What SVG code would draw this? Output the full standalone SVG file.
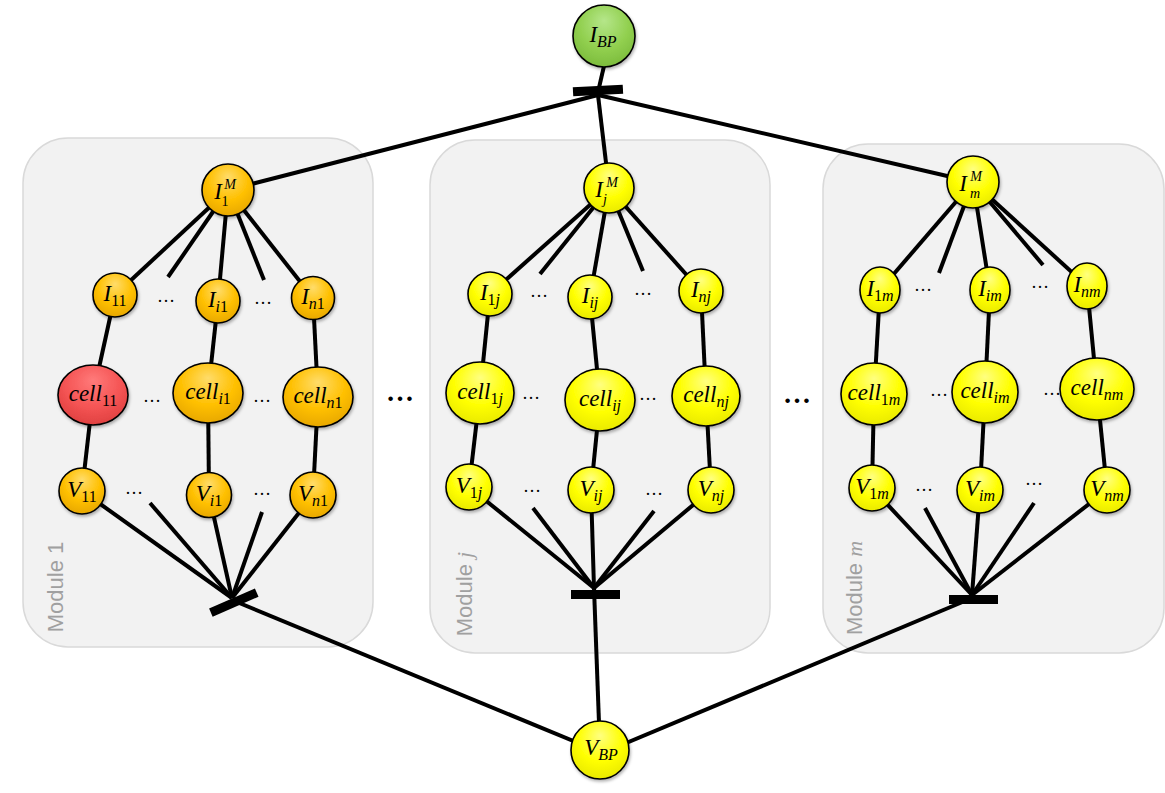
<svg xmlns="http://www.w3.org/2000/svg" width="1165" height="793" viewBox="0 0 1165 793">
<defs>
<radialGradient id="gOr" cx="0.5" cy="0.35" r="0.65" fx="0.5" fy="0.25"><stop offset="0" stop-color="#ffdc6a"/><stop offset="0.6" stop-color="#ffc000"/><stop offset="1" stop-color="#e8a800"/></radialGradient>
<radialGradient id="gYe" cx="0.5" cy="0.35" r="0.65" fx="0.5" fy="0.25"><stop offset="0" stop-color="#ffff80"/><stop offset="0.6" stop-color="#ffff00"/><stop offset="1" stop-color="#eaea00"/></radialGradient>
<radialGradient id="gRe" cx="0.5" cy="0.35" r="0.65" fx="0.5" fy="0.25"><stop offset="0" stop-color="#ff7a7a"/><stop offset="0.6" stop-color="#f55555"/><stop offset="1" stop-color="#e04040"/></radialGradient>
<radialGradient id="gGr" cx="0.5" cy="0.35" r="0.65" fx="0.5" fy="0.25"><stop offset="0" stop-color="#b5e68a"/><stop offset="0.6" stop-color="#92d050"/><stop offset="1" stop-color="#7cbc3c"/></radialGradient>
<filter id="sh" x="-20%" y="-20%" width="150%" height="150%"><feDropShadow dx="1" dy="2" stdDeviation="1.5" flood-color="#000" flood-opacity="0.3"/></filter>
</defs>
<style>
.box{fill:#f2f2f2;stroke:#d9d9d9;stroke-width:1.5}
.c{stroke:#000;stroke-width:4;fill:none}
.bar{fill:#000}
.n{stroke:#000;stroke-width:1.6;filter:url(#sh)}
.or{fill:url(#gOr)}.ye{fill:url(#gYe)}.re{fill:url(#gRe)}.gr{fill:url(#gGr)}
.l{font-family:"Liberation Serif","DejaVu Serif",serif;font-style:italic;font-size:23px;fill:#000;text-anchor:middle}
.s{font-size:16px}
.t{font-size:14px}
.u{font-style:normal}
.d{font-family:"Liberation Serif",serif;font-size:18px;fill:#000;text-anchor:middle}
.bd{font-family:"Liberation Serif",serif;font-size:28px;font-weight:bold;fill:#000;text-anchor:middle}
.mod{font-family:"Liberation Sans",Arial,sans-serif;font-size:22px;fill:#a0a0a0;text-anchor:middle}
.mi{font-family:"Liberation Serif",serif;font-style:italic}
</style>
<rect width="1165" height="793" fill="#fff"/>
<g id="modules">
<g id="module1"><rect class="box" x="23" y="138" width="350" height="509" rx="45"/><text class="mod" transform="translate(63,587) rotate(-90)">Module 1</text></g>
<g id="modulej"><rect class="box" x="430" y="140" width="340" height="513" rx="45"/><text class="mod" transform="translate(472,594) rotate(-90)">Module <tspan class="mi">j</tspan></text></g>
<g id="modulem"><rect class="box" x="823" y="144" width="341" height="509" rx="45"/><text class="mod" transform="translate(862,588) rotate(-90)">Module <tspan class="mi">m</tspan></text></g>
</g>
<g id="connectors">
<line class="c" x1="604" y1="66" x2="598" y2="92"/>
<line class="c" x1="598" y1="95" x2="228" y2="190"/>
<line class="c" x1="598" y1="95" x2="609" y2="188"/>
<line class="c" x1="598" y1="95" x2="973" y2="182"/>
<rect class="bar" x="573" y="86" width="50" height="9" transform="rotate(-3 598 91)"/>
<line class="c" x1="228" y1="190" x2="115" y2="295"/>
<line class="c" x1="228" y1="190" x2="168" y2="277"/>
<line class="c" x1="228" y1="190" x2="218" y2="301"/>
<line class="c" x1="228" y1="190" x2="264" y2="280"/>
<line class="c" x1="228" y1="190" x2="313" y2="298"/>
<line class="c" x1="115" y1="295" x2="93" y2="395"/>
<line class="c" x1="218" y1="301" x2="208" y2="393"/>
<line class="c" x1="313" y1="298" x2="318" y2="397"/>
<line class="c" x1="93" y1="395" x2="82" y2="491"/>
<line class="c" x1="208" y1="393" x2="209" y2="495"/>
<line class="c" x1="318" y1="397" x2="313" y2="495"/>
<line class="c" x1="82" y1="491" x2="232" y2="598"/>
<line class="c" x1="150" y1="503" x2="232" y2="598"/>
<line class="c" x1="209" y1="495" x2="232" y2="598"/>
<line class="c" x1="262" y1="512" x2="232" y2="598"/>
<line class="c" x1="313" y1="495" x2="232" y2="598"/>
<line class="c" x1="232" y1="600" x2="600" y2="752"/>
<rect class="bar" x="209" y="598" width="50" height="9" transform="rotate(-23.5 234 603)"/>
<line class="c" x1="609" y1="188" x2="490" y2="294"/>
<line class="c" x1="609" y1="188" x2="540" y2="274"/>
<line class="c" x1="609" y1="188" x2="590" y2="297"/>
<line class="c" x1="609" y1="188" x2="643" y2="271"/>
<line class="c" x1="609" y1="188" x2="701" y2="291"/>
<line class="c" x1="490" y1="294" x2="480" y2="393"/>
<line class="c" x1="590" y1="297" x2="600" y2="400"/>
<line class="c" x1="701" y1="291" x2="706" y2="396"/>
<line class="c" x1="480" y1="393" x2="469" y2="487"/>
<line class="c" x1="600" y1="400" x2="591" y2="490"/>
<line class="c" x1="706" y1="396" x2="711" y2="490"/>
<line class="c" x1="469" y1="487" x2="594" y2="588"/>
<line class="c" x1="533" y1="508" x2="594" y2="588"/>
<line class="c" x1="591" y1="490" x2="594" y2="588"/>
<line class="c" x1="654" y1="511" x2="594" y2="588"/>
<line class="c" x1="711" y1="490" x2="594" y2="588"/>
<line class="c" x1="594" y1="588" x2="600" y2="750"/>
<rect class="bar" x="571" y="590" width="49" height="9"/>
<line class="c" x1="973" y1="182" x2="880" y2="290"/>
<line class="c" x1="973" y1="182" x2="939" y2="273"/>
<line class="c" x1="973" y1="182" x2="990" y2="290"/>
<line class="c" x1="973" y1="182" x2="1043" y2="265"/>
<line class="c" x1="973" y1="182" x2="1087" y2="286"/>
<line class="c" x1="880" y1="290" x2="874" y2="395"/>
<line class="c" x1="990" y1="290" x2="985" y2="393"/>
<line class="c" x1="1087" y1="286" x2="1097" y2="390"/>
<line class="c" x1="874" y1="395" x2="872" y2="488"/>
<line class="c" x1="985" y1="393" x2="980" y2="490"/>
<line class="c" x1="1097" y1="390" x2="1107" y2="490"/>
<line class="c" x1="872" y1="488" x2="972" y2="595"/>
<line class="c" x1="925" y1="508" x2="972" y2="595"/>
<line class="c" x1="980" y1="490" x2="972" y2="595"/>
<line class="c" x1="1034" y1="503" x2="972" y2="595"/>
<line class="c" x1="1107" y1="490" x2="972" y2="595"/>
<line class="c" x1="972" y1="598" x2="600" y2="754"/>
<rect class="bar" x="949" y="595" width="49" height="9"/>
</g>
<g id="dots">
<text class="d" x="166" y="302">…</text><text class="d" x="263" y="304">…</text>
<text class="d" x="152" y="402">…</text><text class="d" x="262" y="402">…</text>
<text class="d" x="134" y="494">…</text><text class="d" x="262" y="495">…</text>
<text class="d" x="539" y="297">…</text><text class="d" x="643" y="295">…</text>
<text class="d" x="531" y="399">…</text><text class="d" x="648" y="400">…</text>
<text class="d" x="532" y="492">…</text><text class="d" x="654" y="495">…</text>
<text class="d" x="923" y="291">…</text><text class="d" x="1040" y="288">…</text>
<text class="d" x="939" y="396">…</text><text class="d" x="1052" y="395">…</text>
<text class="d" x="924" y="491">…</text><text class="d" x="1034" y="485">…</text>
<text class="bd" x="400" y="401">…</text><text class="bd" x="797" y="403">…</text>
</g>
<g id="IBP"><circle class="n gr" cx="604" cy="36" r="31"/><text class="l" x="603" y="42">I<tspan class="s" dy="5">BP</tspan></text></g>
<g id="VBP"><circle class="n ye" cx="600" cy="750" r="29"/><text class="l" x="601" y="755">V<tspan class="s" dy="5">BP</tspan></text></g>
<g id="I1M"><circle class="n or" cx="228" cy="190" r="26"/><text class="l" x="218" y="199">I</text><text class="l t" x="230" y="189">M</text><text class="l t u" x="225" y="206">1</text></g>
<g id="I11"><circle class="n or" cx="115" cy="295" r="22"/><text class="l" x="115" y="301">I<tspan class="s u" dy="5">11</tspan></text></g>
<g id="Ii1"><circle class="n or" cx="218" cy="301" r="22"/><text class="l" x="218" y="307">I<tspan class="s" dy="5">i<tspan class="u">1</tspan></tspan></text></g>
<g id="In1"><circle class="n or" cx="313" cy="298" r="21.5"/><text class="l" x="313" y="304">I<tspan class="s" dy="5">n<tspan class="u">1</tspan></tspan></text></g>
<g id="cell11"><ellipse class="n re" cx="93" cy="395" rx="35" ry="30"/><text class="l" x="93" y="401">cell<tspan class="s u" dy="5">11</tspan></text></g>
<g id="celli1"><ellipse class="n or" cx="208" cy="393" rx="35" ry="30"/><text class="l" x="208" y="399">cell<tspan class="s" dy="5">i<tspan class="u">1</tspan></tspan></text></g>
<g id="celln1"><ellipse class="n or" cx="318" cy="397" rx="35" ry="30"/><text class="l" x="318" y="403">cell<tspan class="s" dy="5">n<tspan class="u">1</tspan></tspan></text></g>
<g id="V11"><circle class="n or" cx="82" cy="491" r="23"/><text class="l" x="82" y="497">V<tspan class="s u" dy="5">11</tspan></text></g>
<g id="Vi1"><circle class="n or" cx="209" cy="495" r="22.5"/><text class="l" x="209" y="501">V<tspan class="s" dy="5">i<tspan class="u">1</tspan></tspan></text></g>
<g id="Vn1"><circle class="n or" cx="313" cy="495" r="23"/><text class="l" x="313" y="501">V<tspan class="s" dy="5">n<tspan class="u">1</tspan></tspan></text></g>
<g id="IjM"><circle class="n ye" cx="609" cy="188" r="25"/><text class="l" x="599" y="197">I</text><text class="l t" x="612" y="187">M</text><text class="l t" x="605" y="204">j</text></g>
<g id="I1j"><circle class="n ye" cx="490" cy="294" r="22"/><text class="l" x="490" y="300">I<tspan class="s" dy="5"><tspan class="u">1</tspan>j</tspan></text></g>
<g id="Iij"><circle class="n ye" cx="590" cy="297" r="22"/><text class="l" x="590" y="303">I<tspan class="s" dy="5">ij</tspan></text></g>
<g id="Inj"><circle class="n ye" cx="701" cy="291" r="22"/><text class="l" x="701" y="297">I<tspan class="s" dy="5">nj</tspan></text></g>
<g id="cell1j"><ellipse class="n ye" cx="480" cy="393" rx="34" ry="31"/><text class="l" x="480" y="399">cell<tspan class="s" dy="5"><tspan class="u">1</tspan>j</tspan></text></g>
<g id="cellij"><ellipse class="n ye" cx="600" cy="400" rx="35" ry="31"/><text class="l" x="600" y="406">cell<tspan class="s" dy="5">ij</tspan></text></g>
<g id="cellnj"><ellipse class="n ye" cx="706" cy="396" rx="34" ry="30"/><text class="l" x="706" y="402">cell<tspan class="s" dy="5">nj</tspan></text></g>
<g id="V1j"><circle class="n ye" cx="469" cy="487" r="23"/><text class="l" x="469" y="493">V<tspan class="s" dy="5"><tspan class="u">1</tspan>j</tspan></text></g>
<g id="Vij"><circle class="n ye" cx="591" cy="490" r="23"/><text class="l" x="591" y="496">V<tspan class="s" dy="5">ij</tspan></text></g>
<g id="Vnj"><circle class="n ye" cx="711" cy="490" r="23"/><text class="l" x="711" y="496">V<tspan class="s" dy="5">nj</tspan></text></g>
<g id="ImM"><circle class="n ye" cx="973" cy="182" r="26"/><text class="l" x="963" y="191">I</text><text class="l t" x="976" y="181">M</text><text class="l t" x="975" y="198">m</text></g>
<g id="I1m"><ellipse class="n ye" cx="880" cy="290" rx="20" ry="23"/><text class="l" x="880" y="296">I<tspan class="s" dy="5"><tspan class="u">1</tspan>m</tspan></text></g>
<g id="Iim"><ellipse class="n ye" cx="990" cy="290" rx="20" ry="23"/><text class="l" x="990" y="296">I<tspan class="s" dy="5">im</tspan></text></g>
<g id="Inm"><ellipse class="n ye" cx="1087" cy="286" rx="20" ry="23"/><text class="l" x="1087" y="292">I<tspan class="s" dy="5">nm</tspan></text></g>
<g id="cell1m"><ellipse class="n ye" cx="874" cy="394" rx="33" ry="31"/><text class="l" x="874" y="400">cell<tspan class="s" dy="5"><tspan class="u">1</tspan>m</tspan></text></g>
<g id="cellim"><ellipse class="n ye" cx="985" cy="392" rx="33" ry="31"/><text class="l" x="985" y="398">cell<tspan class="s" dy="5">im</tspan></text></g>
<g id="cellnm"><ellipse class="n ye" cx="1097" cy="389" rx="37" ry="31"/><text class="l" x="1097" y="395">cell<tspan class="s" dy="5">nm</tspan></text></g>
<g id="V1m"><circle class="n ye" cx="872" cy="488" r="23"/><text class="l" x="872" y="494">V<tspan class="s" dy="5"><tspan class="u">1</tspan>m</tspan></text></g>
<g id="Vim"><circle class="n ye" cx="980" cy="490" r="23"/><text class="l" x="980" y="496">V<tspan class="s" dy="5">im</tspan></text></g>
<g id="Vnm"><circle class="n ye" cx="1107" cy="490" r="23"/><text class="l" x="1107" y="496">V<tspan class="s" dy="5">nm</tspan></text></g>
</svg>
